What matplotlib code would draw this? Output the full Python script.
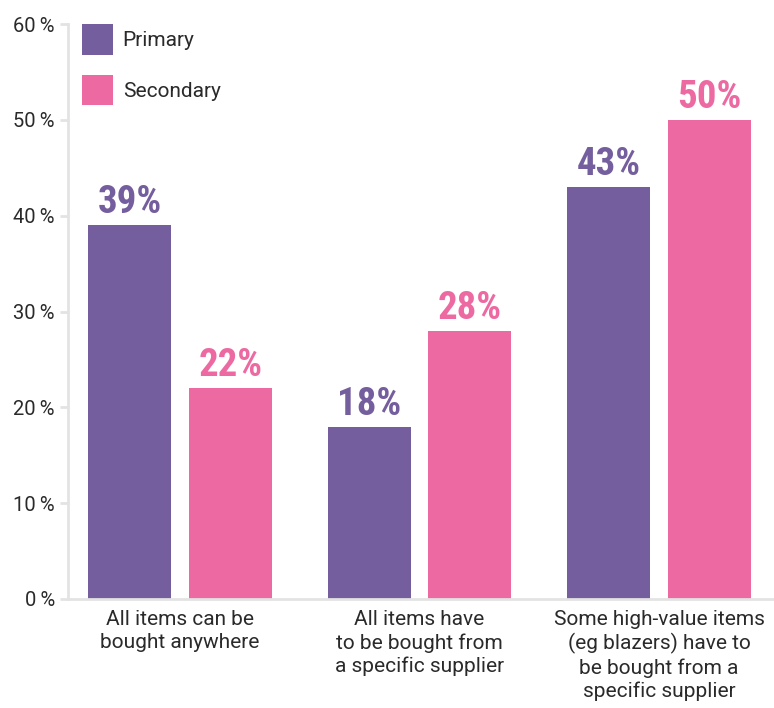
import numpy as np
from matplotlib import pyplot as plt

categories = [
    "All items can be\nbought anywhere",
    "All items have\nto be bought from\na specific supplier",
    "Some high-value items\n(eg blazers) have to\nbe bought from a\nspecific supplier",
]
primary = [39, 18, 43]
secondary = [22, 28, 50]
series_names = ["Primary", "Secondary"]
y_ticks = [0, 10, 20, 30, 40, 50, 60]

PURPLE = "#745e9d"
PINK = "#ec6aa1"
GRID = "#e3e3e3"
TEXT = "#2a2a2a"

plt.rcParams['font.family'] = ['Roboto', 'DejaVu Sans']

fig = plt.figure(figsize=(7.74, 7.08), dpi=100)
ax = fig.add_axes([68 / 774, 109 / 708, 1 - 68 / 774, (599 - 24) / 708])

x = np.arange(len(categories))
width = 0.347
offset = 0.21
bars_p = ax.bar(x - offset, primary, width, color=PURPLE, label=series_names[0])
bars_s = ax.bar(x + offset, secondary, width, color=PINK, label=series_names[1])

for bars, vals, col in ((bars_p, primary, PURPLE), (bars_s, secondary, PINK)):
    for b, v in zip(bars, vals):
        ax.annotate(f"{v}%", (b.get_x() + b.get_width() / 2, v), xytext=(0, 8.6),
                    textcoords="offset points", ha="center", va="baseline",
                    fontsize=28, fontweight="bold", color=col,
                    family=["Roboto Condensed", "DejaVu Sans"])

ax.set_xlim(-0.468, 2.48)
ax.set_ylim(0, 60)
ax.set_yticks(y_ticks)
ax.set_yticklabels([f"{t}\u2009%" for t in y_ticks], fontsize=14.5, color=TEXT)
ax.set_xticks(x)
ax.set_xticklabels(categories, fontsize=15, color=TEXT, linespacing=1.25)
ax.tick_params(axis="y", length=5.8, width=2, color=GRID, pad=3.6)
ax.tick_params(axis="x", length=0, pad=8)

for side in ("top", "right"):
    ax.spines[side].set_visible(False)
for side in ("left", "bottom"):
    ax.spines[side].set_color(GRID)
    ax.spines[side].set_linewidth(2)

ax.legend(loc="upper left", bbox_to_anchor=(0.02, 1.0), frameon=False, fontsize=15,
          handlelength=1.5, handleheight=1.9, handletextpad=0.45, labelspacing=0.95,
          borderaxespad=0.0, borderpad=0.0, labelcolor=TEXT)

fig.savefig("out.png", dpi=100)
